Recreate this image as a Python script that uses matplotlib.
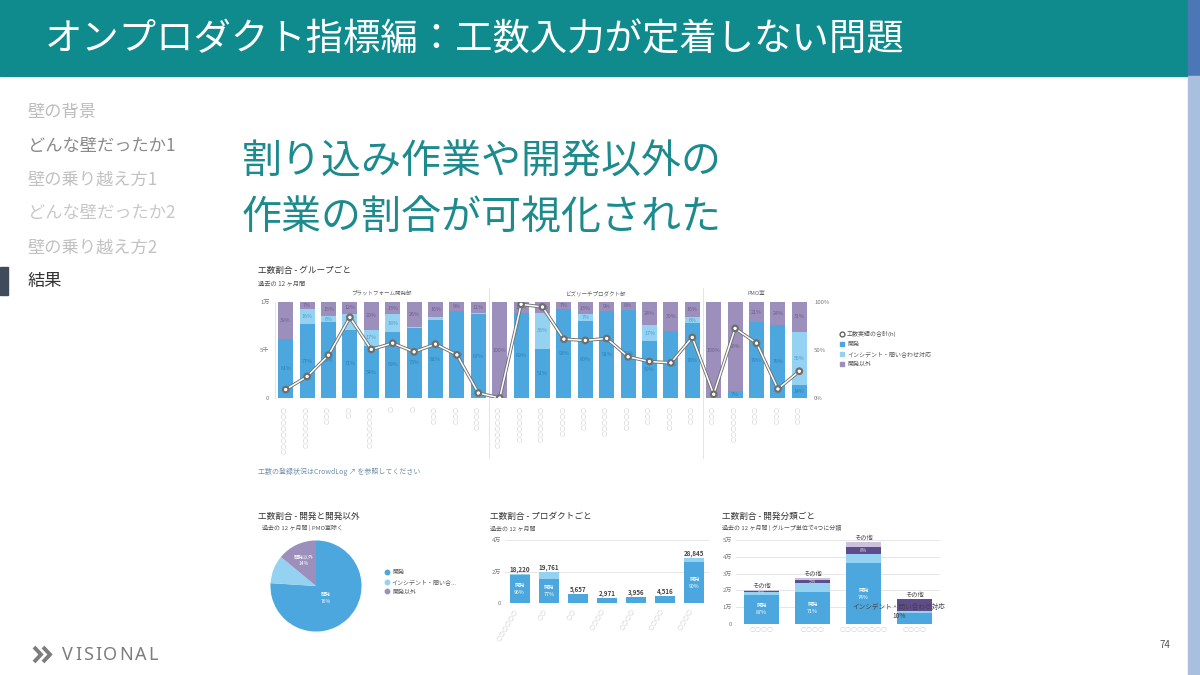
import numpy as np
import matplotlib.pyplot as plt
import matplotlib.patheffects as pe
from matplotlib.patches import Rectangle
from matplotlib.lines import Line2D

plt.rcParams['font.family'] = ['Noto Sans CJK JP', 'DejaVu Sans']

W, H = 1200, 675

# ---- slide text ----
slide_title = 'オンプロダクト指標編：工数入力が定着しない問題'
menu_items = ['壁の背景', 'どんな壁だったか1', '壁の乗り越え方1',
              'どんな壁だったか2', '壁の乗り越え方2', '結果']
menu_colors = ['#bdbdbd', '#8a8a8a', '#c2c2c2', '#c8c8c8', '#c2c2c2', '#333333']
headline = ['割り込み作業や開発以外の', '作業の割合が可視化された']

# ---- chart 1: group ratio (%) and total hours ----
group_names = ['プラットフォーム開発部', 'ビズリーチプロダクト部', 'PMO室']
plat_dev = [61, 77, 79, 71, 54, 69, 73, 81, 91, 87]
plat_inc = [0, 16, 6, 17, 17, 18, 1, 3, 0, 2]
plat_oth = [39, 7, 15, 12, 29, 13, 26, 16, 9, 11]
plat_hours = [880, 2240, 4460, 8400, 5060, 5710, 4810, 5610, 4490, 520]

biz_dev = [0, 89, 51, 93, 80, 91, 92, 59, 70, 78]
biz_inc = [0, 0, 38, 0, 7, 0, 0, 17, 0, 6]
biz_oth = [100, 11, 11, 7, 13, 9, 8, 24, 30, 16]
biz_hours = [0, 9760, 9480, 6130, 6000, 6200, 4290, 3800, 3660, 6310]

pmo_dev = [0, 7, 79, 76, 14]
pmo_inc = [0, 0, 0, 0, 55]
pmo_oth = [100, 93, 21, 24, 31]
pmo_hours = [390, 7250, 5710, 940, 2790]

team_labels = ['〇〇〇〇〇〇〇〇', '〇〇〇〇〇〇〇', '〇〇〇', '〇〇', '〇〇〇〇〇〇〇',
               '〇', '〇', '〇〇〇', '〇〇〇', '〇〇〇〇',
               '〇〇〇〇〇〇〇', '〇〇〇〇〇〇', '〇〇〇〇〇〇', '〇〇〇〇〇', '〇〇〇〇',
               '〇〇〇〇〇', '〇〇〇〇', '〇〇〇', '〇〇〇〇', '〇〇〇',
               '〇〇〇', '〇〇〇〇〇〇', '〇〇〇', '〇〇〇', '〇〇〇']
legend1 = ['工数実績の合計(h)', '開発', 'インシデント・問い合わせ対応', '開発以外']

# ---- chart 2: pie ----
pie_labels = ['開発', 'インシデント・問い合...', '開発以外']
pie_vals = [76, 10, 14]

# ---- chart 3: per product ----
prod_total = [18220, 19761, 5657, 2971, 3956, 4516, 28845]
prod_dev_pct = [96, 77, 100, 100, 100, 100, 90]
prod_labels = ['〇〇〇〇〇〇', '〇〇', '〇〇', '〇〇〇〇', '〇〇〇〇', '〇〇〇〇', '〇〇〇〇']

# ---- chart 4: per dev category ----
cls_dev = [17400, 19300, 36100, 6500]
cls_inc = [1600, 5400, 5600, 1500]
cls_oth = [800, 1400, 4000, 6900]
cls_misc = [300, 1200, 3000, 0]
cls_labels = ['〇〇〇〇', '〇〇〇〇', '〇〇〇〇〇〇〇〇', '〇〇〇〇']

C_DEV = '#4ba7dd'
C_INC = '#95d1f0'
C_OTH = '#9d8fbb'
C_DARK = '#5e4c8d'
C_MISC = '#cbc3de'
TEAL = '#0f8b8d'

fig = plt.figure(figsize=(12, 6.75), dpi=100)


def px_axes(x0, y0, x1, y1):
    a = fig.add_axes([x0 / W, 1 - y1 / H, (x1 - x0) / W, (y1 - y0) / H])
    a.patch.set_alpha(0)
    return a


# background layer in pixel coordinates
bg = fig.add_axes([0, 0, 1, 1])
bg.set_xlim(0, W)
bg.set_ylim(H, 0)
bg.axis('off')
bg.add_patch(Rectangle((0, 0), 1188, 76, color=TEAL))
bg.add_patch(Rectangle((1188, 0), 12, 76, color='#4b77b6'))
bg.add_patch(Rectangle((1188, 76), 12, 599, color='#a8bfdd'))
bg.text(45, 40, slide_title, color='white', fontsize=26.9, va='center')

for i, (item, c) in enumerate(zip(menu_items, menu_colors)):
    bg.text(28, 112 + i * 33.8, item, color=c, fontsize=12.4, va='center')
bg.add_patch(Rectangle((0, 267), 8, 28, color='#3f4a5a'))

for i, line in enumerate(headline):
    bg.text(242, 163 + i * 55, line, color='#1d8b8d', fontsize=28.8, va='center')

# ---- chart 1 ----
bg.text(258, 270, '工数割合 - グループごと', fontsize=6.2, color='#333', va='center')
bg.text(258, 283, '過去の 12 ヶ月間', fontsize=4.5, color='#555', va='center')
bg.text(258, 472, '工数の登録状況はCrowdLog ↗ を参照してください', fontsize=5,
        color='#6f8fa8', va='center')

dev = np.array(plat_dev + biz_dev + pmo_dev)
inc = np.array(plat_inc + biz_inc + pmo_inc)
oth = np.array(plat_oth + biz_oth + pmo_oth)
hours = np.array(plat_hours + biz_hours + pmo_hours)
x = np.arange(len(dev))

ax = px_axes(275, 302, 810, 398)
ax.bar(x, dev * 100, width=0.7, color=C_DEV)
ax.bar(x, inc * 100, width=0.7, bottom=dev * 100, color=C_INC)
ax.bar(x, oth * 100, width=0.7, bottom=(dev + inc) * 100, color=C_OTH)
for xi, d, n, o in zip(x, dev, inc, oth):
    for val, base, col in [(d, 0, '#2f7fb5'), (n, d, '#4a9fcf'), (o, d + n, '#6c5e90')]:
        if val >= 5:
            ax.text(xi, (base + val / 2) * 100, f'{val}%', fontsize=3.8,
                    color=col, ha='center', va='center')
ax.plot(x, hours, color='white', lw=1.1, marker='o', ms=3.2, mfc='white',
        mec='#666', mew=0.7, zorder=5,
        path_effects=[pe.Stroke(linewidth=2.4, foreground='#707070'), pe.Normal()])
ax.set_xlim(-0.5, len(x) - 0.5)
ax.set_ylim(0, 10000)
ax.set_yticks([0, 5000, 10000], ['0', '5千', '1万'])
ax.set_xticks(x, team_labels, rotation=90, fontsize=3.5, color='#d6d6d6')
ax.tick_params(length=0, labelsize=4.3, labelcolor='#777', pad=4)
ax.tick_params(axis='x', labelcolor='#d6d6d6', pad=6)
for s in ['top', 'right', 'bottom']:
    ax.spines[s].set_visible(False)
ax.spines['left'].set_color('#e0e0e0')
ax.spines['left'].set_linewidth(0.6)
bounds = np.cumsum([len(plat_dev), len(biz_dev), len(pmo_dev)])
starts = np.concatenate([[0], bounds[:-1]])
for s0, s1, name in zip(starts, bounds, group_names):
    ax.text((s0 + s1 - 1) / 2, 10900, name, fontsize=4, color='#666',
            ha='center', va='center')
for b in bounds[:-1]:
    ax.axvline(b - 0.5, ymin=-0.62, ymax=1.15, color='#e3e3e3', lw=0.7,
               clip_on=False)
ax2 = ax.twinx()
ax2.set_ylim(0, 100)
ax2.set_yticks([0, 50, 100], ['0%', '50%', '100%'])
ax2.tick_params(length=0, labelsize=4.3, labelcolor='#777', pad=3)
for s in ax2.spines.values():
    s.set_visible(False)

h1 = [Line2D([], [], marker='o', ls='none', mfc='white', mec='#555', mew=0.9, ms=3.5)]
h1 += [Line2D([], [], marker='s', ls='none', color=c, ms=3.5)
       for c in [C_DEV, C_INC, C_OTH]]
fig.legend(h1, legend1, loc='center left', bbox_to_anchor=(834 / W, 1 - 349 / H),
           frameon=False, fontsize=4.3, handlelength=0.8, handletextpad=0.5,
           labelspacing=0.75, labelcolor='#555')

# ---- chart 2: pie ----
bg.text(258, 516, '工数割合 - 開発と開発以外', fontsize=6.2, color='#333', va='center')
bg.text(262, 528, '過去の 12 ヶ月間 | PMO室除く', fontsize=4.3, color='#555', va='center')
axp = px_axes(270, 540, 362, 632)
wedges, _ = axp.pie(pie_vals, colors=[C_DEV, C_INC, C_OTH], startangle=90,
                    counterclock=False, radius=1.0)
for w, lab, v in zip(wedges, pie_labels, pie_vals):
    if v == 10:
        continue
    ang = np.deg2rad((w.theta1 + w.theta2) / 2)
    r = 0.3 if v > 50 else 0.62
    axp.text(r * np.cos(ang), r * np.sin(ang) - (0.05 if v > 50 else 0),
             f'{lab}\n{v}%', fontsize=3.6, color='white', ha='center',
             va='center', linespacing=1.4)
axp.set_xlim(-1.01, 1.01)
axp.set_ylim(-1.01, 1.01)
axp.set_aspect('equal')
h2 = [Line2D([], [], marker='o', ls='none', color=c, ms=3.2)
      for c in [C_DEV, C_INC, C_OTH]]
fig.legend(h2, pie_labels, loc='center left', bbox_to_anchor=(380 / W, 1 - 582 / H),
           frameon=False, fontsize=4.3, handlelength=0.6, handletextpad=0.5,
           labelspacing=0.7, labelcolor='#555')

# ---- chart 3: per product ----
bg.text(490, 516, '工数割合 - プロダクトごと', fontsize=6.2, color='#333', va='center')
bg.text(490, 528, '過去の 12 ヶ月間', fontsize=4.3, color='#555', va='center')
axb = px_axes(505, 540, 709, 603)
xb = np.arange(len(prod_total))
tot = np.array(prod_total)
devp = np.array(prod_dev_pct) / 100
axb.bar(xb, tot * devp, width=0.69, color=C_DEV, zorder=2)
axb.bar(xb, tot * (1 - devp), bottom=tot * devp, width=0.69, color=C_INC, zorder=2)
for xi, t, p in zip(xb, tot, prod_dev_pct):
    axb.text(xi, t + 600, f'{t:,}', fontsize=4.5, color='#444', ha='center',
             va='bottom', fontweight='bold')
    if t > 10000:
        axb.text(xi, t * p / 100 / 2, f'開発\n{p}%', fontsize=3.8, color='white',
                 ha='center', va='center', linespacing=1.5)
axb.set_xlim(-0.5, len(xb) - 0.5)
axb.set_ylim(0, 40000)
axb.set_yticks([0, 20000, 40000], ['0', '2万', '4万'])
axb.grid(axis='y', color='#e6e6e6', lw=0.7, zorder=0)
axb.set_xticks(xb, prod_labels, rotation=60, ha='right', fontsize=3.5)
axb.tick_params(length=0, labelsize=4.3, labelcolor='#777', pad=3)
axb.tick_params(axis='x', labelcolor='#d6d6d6', pad=4)
for s in axb.spines.values():
    s.set_visible(False)

# ---- chart 4: per dev category ----
bg.text(722, 516, '工数割合 - 開発分類ごと', fontsize=6.2, color='#333', va='center')
bg.text(722, 528, '過去の 12 ヶ月間 | グループ単位で4つに分類', fontsize=4.3,
        color='#555', va='center')
axc = px_axes(736, 540, 940, 624)
xc = np.arange(len(cls_dev))
d = np.array(cls_dev)
n = np.array(cls_inc)
o = np.array(cls_oth)
m = np.array(cls_misc)
total = d + n + o + m
axc.bar(xc, d, width=0.69, color=C_DEV, zorder=2)
axc.bar(xc, n, bottom=d, width=0.69, color=C_INC, zorder=2)
axc.bar(xc, o, bottom=d + n, width=0.69, color=C_DARK, zorder=2)
axc.bar(xc, m, bottom=d + n + o, width=0.69, color=C_MISC, zorder=2)
for xi in xc:
    axc.text(xi, total[xi] + 300, 'その他', fontsize=4.5, color='#444',
             ha='center', va='bottom')
    pd = round(100 * d[xi] / total[xi])
    if pd > 60:
        axc.text(xi, d[xi] / 2, f'開発\n{pd}%', fontsize=3.8, color='white',
                 ha='center', va='center', linespacing=1.5)
        axc.text(xi, d[xi] + n[xi] + o[xi] / 2, f'{round(100 * o[xi] / total[xi])}%',
                 fontsize=3.5, color='#ddd', ha='center', va='center')
    else:
        axc.text(xi - 0.3, d[xi] + n[xi] / 2,
                 f'インシデント・問い合わせ対応\n{round(100 * n[xi] / total[xi])}%',
                 fontsize=4.8, color='#444', ha='center', va='center',
                 linespacing=1.2, zorder=5)
axc.set_xlim(-0.5, len(xc) - 0.5)
axc.set_ylim(0, 50000)
axc.set_yticks(np.arange(0, 50001, 10000), ['0', '1万', '2万', '3万', '4万', '5万'])
axc.grid(axis='y', color='#e6e6e6', lw=0.7, zorder=0)
axc.set_xticks(xc, cls_labels, fontsize=3.5)
axc.tick_params(length=0, labelsize=4.3, labelcolor='#777', pad=3)
axc.tick_params(axis='x', labelcolor='#d6d6d6', pad=3)
for s in axc.spines.values():
    s.set_visible(False)

# ---- footer ----
for cx in [34, 43]:
    bg.plot([cx, cx + 7, cx], [647, 654.5, 662], color='#7d7d7d', lw=2.8,
            solid_capstyle='butt', solid_joinstyle='miter')
logo_letters = ['V', 'I', 'S', 'I', 'O', 'N', 'A', 'L']
logo_x = [62, 75.2, 83, 95.1, 102.9, 119.3, 135, 148.7]
for ch, lx in zip(logo_letters, logo_x):
    bg.text(lx, 655, ch, fontsize=13, color='#7d7d7d', va='center', ha='left',
            family=['Noto Sans', 'DejaVu Sans'])
bg.text(1165, 645, '74', fontsize=7, color='#555', ha='center', va='center')

fig.savefig('out.png', dpi=100)
